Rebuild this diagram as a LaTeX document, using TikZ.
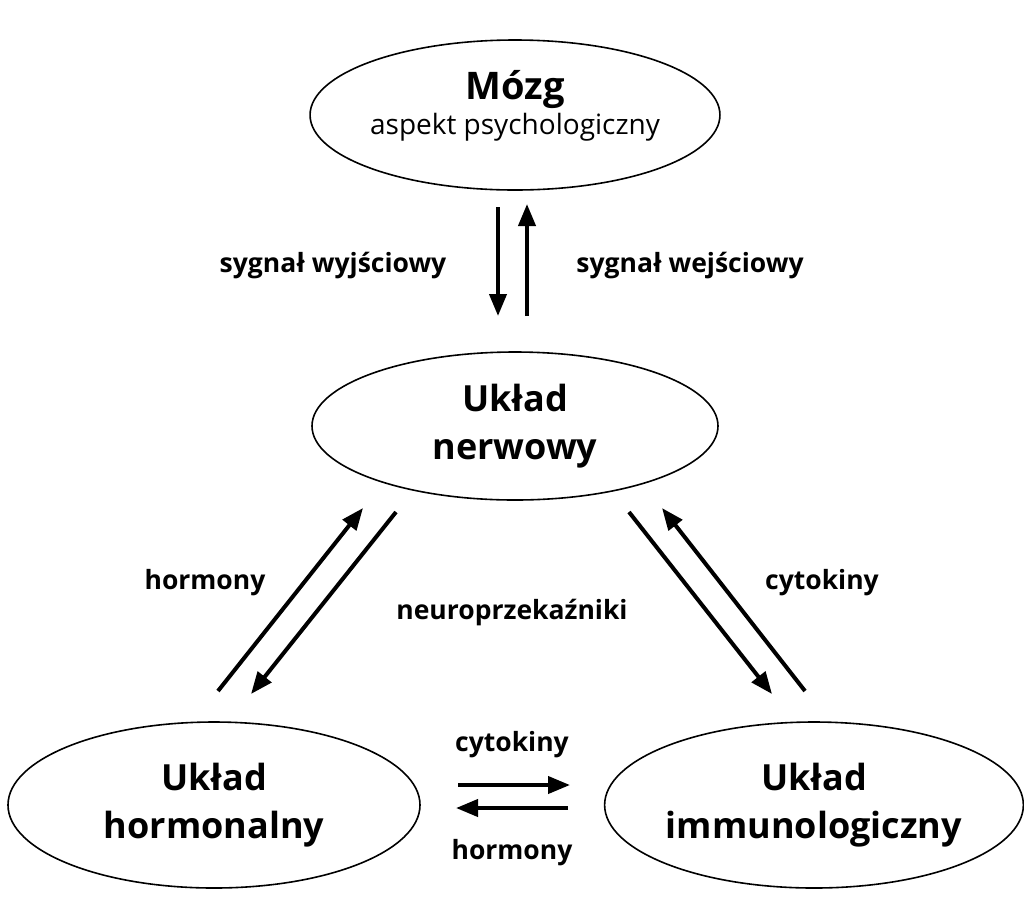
\documentclass[tikz,border=0pt]{standalone}
\usepackage{fontspec}
\setmainfont{Open Sans}
\usetikzlibrary{arrows.meta,positioning,shapes.geometric}

\begin{document}
\begin{tikzpicture}[
	x=1pt,y=-1pt,
	myellipse/.style={
		ellipse,
		draw=black,
		line width=1.6pt,
		inner sep=0pt,
		align=center},
	mytitle/.style={font=\fontsize{36}{48}\selectfont\bfseries},
	mylabel/.style={font=\fontsize{26.5}{32}\selectfont\bfseries},
	myarrow/.style={-{Triangle[length=22pt,width=17pt]},line width=4pt}
	]
	\useasboundingbox (0,0) rectangle (1024,914);
	
	\node[myellipse,font=\fontsize{28}{35}\selectfont,text depth=26pt,minimum width=406pt,minimum height=150pt] (cMozg) at (515,115)
		{{\fontsize{38}{35}\selectfont\bfseries Mózg}\\aspekt psychologiczny};
	\node[myellipse,mytitle,minimum width=406pt,minimum height=148pt] (cNerw) at (515,426)
		{Układ\\nerwowy};
	\node[myellipse,mytitle,minimum width=412pt,minimum height=166pt] (cHorm) at (214,805)
		{Układ\\hormonalny};
	\node[myellipse,mytitle,minimum width=412pt,minimum height=166pt] (cImm) at (814,805)
		{Układ\\immunologiczny};
	
	% arrow ends
	\coordinate (a1) at (498,207);  \coordinate (b1) at (498,316);
	\coordinate (a2) at (527,316);  \coordinate (b2) at (527,204);
	\coordinate (a3) at (218,691);  \coordinate (b3) at (363,508);
	\coordinate (a4) at (396,512);  \coordinate (b4) at (251,694);
	\coordinate (a5) at (629,512);  \coordinate (b5) at (772,694);
	\coordinate (a6) at (805,691);  \coordinate (b6) at (662,508);
	\coordinate (a7) at (458,785);  \coordinate (b7) at (570,785);
	\coordinate (a8) at (568,808);  \coordinate (b8) at (456,808);
	
	\foreach \i/\j in {a1/b1,a2/b2,a3/b3,a4/b4,a5/b5,a6/b6,a7/b7,a8/b8}
	\draw [myarrow] (\i) -- (\j);
	
	\node[mylabel] (lWyj) at (333,266) {sygnał wyjściowy};
	\node[mylabel] (lWej) at (690,266) {sygnał wejściowy};
	\node[mylabel] (lHorm1) at (205,583) {hormony};
	\node[mylabel] (lNeuro) at (512,613) {neuroprzekaźniki};
	\node[mylabel] (lCyt1) at (822,583) {cytokiny};
	\node[mylabel] (lCyt2) at (512,745) {cytokiny};
	\node[mylabel] (lHorm2) at (512,853) {hormony};
	
\end{tikzpicture}
\end{document}
